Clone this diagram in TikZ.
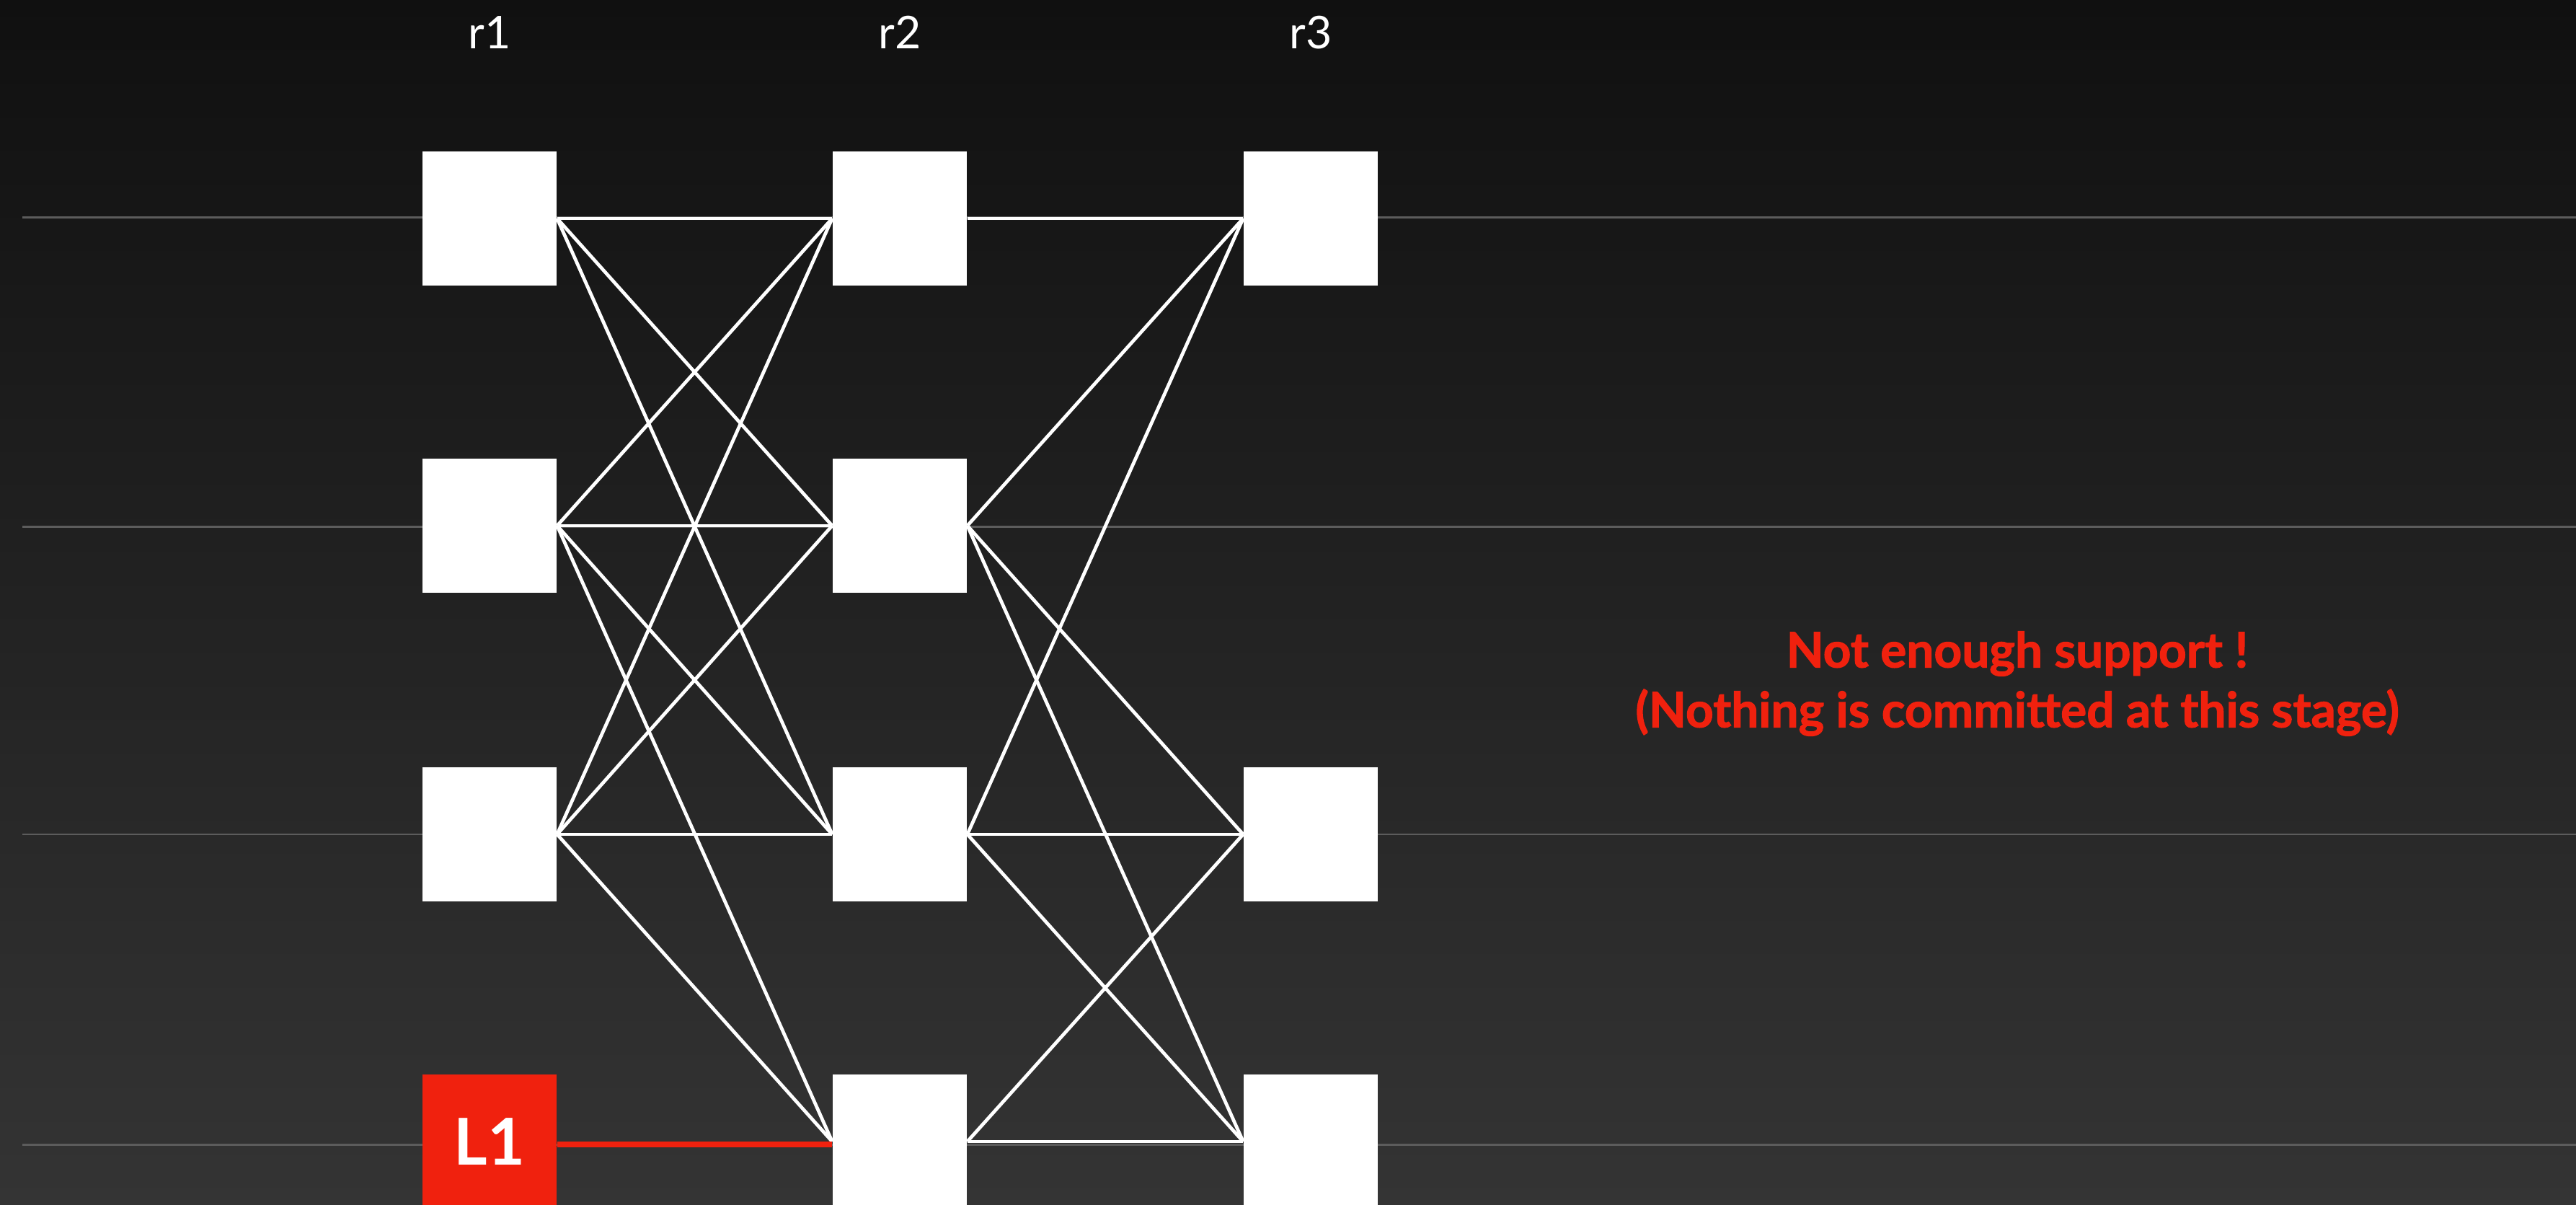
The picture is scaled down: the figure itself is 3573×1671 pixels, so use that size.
\documentclass[tikz,border=0pt]{standalone}
\usepackage{fontspec}
\setmainfont{Lato}
\newfontfamily\notefont[BoldFeatures={FakeBold=1.6}]{Lato}
\begin{document}
\begin{tikzpicture}[x=0.01cm,y=-0.01cm]
\definecolor{bgtop}{RGB}{16,16,16}
\definecolor{bgbot}{RGB}{52,52,52}
\definecolor{rowline}{RGB}{92,92,92}
\definecolor{alertred}{RGB}{240,33,14}
\tikzset{
  box/.style={fill=white, draw=none, inner sep=0pt, minimum size=1.86cm},
  redbox/.style={box, fill=alertred, text=white, font=\fontsize{25.5}{28}\selectfont\bfseries},
  edge/.style={draw=white, line width=1.35pt},
  rededge/.style={draw=alertred, line width=2.2pt},
  grid/.style={draw=rowline, line width=0.85pt},
  collabel/.style={text=white, font=\fontsize{17.8}{20}\selectfont},
  note/.style={text=alertred, align=center, font=\notefont\fontsize{19.2}{23.6}\selectfont\bfseries}
}
\useasboundingbox (0,0) rectangle (3573,1671);
\shade[top color=bgtop, bottom color=bgbot] (0,0) rectangle (3573,1671);
% row lines
\coordinate (g1s) at (31,302);  \coordinate (g1e) at (3573,302);
\coordinate (g2s) at (31,731);  \coordinate (g2e) at (3573,731);
\coordinate (g3s) at (31,1157); \coordinate (g3e) at (3573,1157);
\coordinate (g4s) at (31,1587); \coordinate (g4e) at (3573,1587);
\draw[grid] (g1s) -- (g1e);
\draw[grid] (g2s) -- (g2e);
\draw[grid] (g3s) -- (g3e);
\draw[grid] (g4s) -- (g4e);
% labels
\node[collabel] (l1) at (679,45) {r1};
\node[collabel] (l2) at (1248,45) {r2};
\node[collabel] (l3) at (1818,45) {r3};
% nodes
\node[box] (a1) at (679,303) {};
\node[box] (a2) at (679,729) {};
\node[box] (a3) at (679,1157) {};
\node[redbox] (a4) at (679,1583) {L1};
\node[box] (b1) at (1248,303) {};
\node[box] (b2) at (1248,729) {};
\node[box] (b3) at (1248,1157) {};
\node[box] (b4) at (1248,1583) {};
\node[box] (c1) at (1818,303) {};
\node[box] (c3) at (1818,1157) {};
\node[box] (c4) at (1818,1583) {};
% r1 - r2
\foreach \s/\t in {a1/b1,a1/b2,a1/b3,a2/b1,a2/b2,a2/b3,a2/b4,a3/b1,a3/b2,a3/b3,a3/b4}
  \draw[edge] (\s.east) -- (\t.west);
\draw[rededge] ([yshift=-0.04cm]a4.east) -- ([yshift=-0.04cm]b4.west);
% r2 - r3
\foreach \s/\t in {b1/c1,b2/c1,b3/c1,b2/c3,b3/c3,b4/c3,b2/c4,b3/c4,b4/c4}
  \draw[edge] (\s.east) -- (\t.west);
% note
\node[note] (msg) at (2798,948) {Not enough support !\\(Nothing is committed at this stage)};
\end{tikzpicture}
\end{document}
